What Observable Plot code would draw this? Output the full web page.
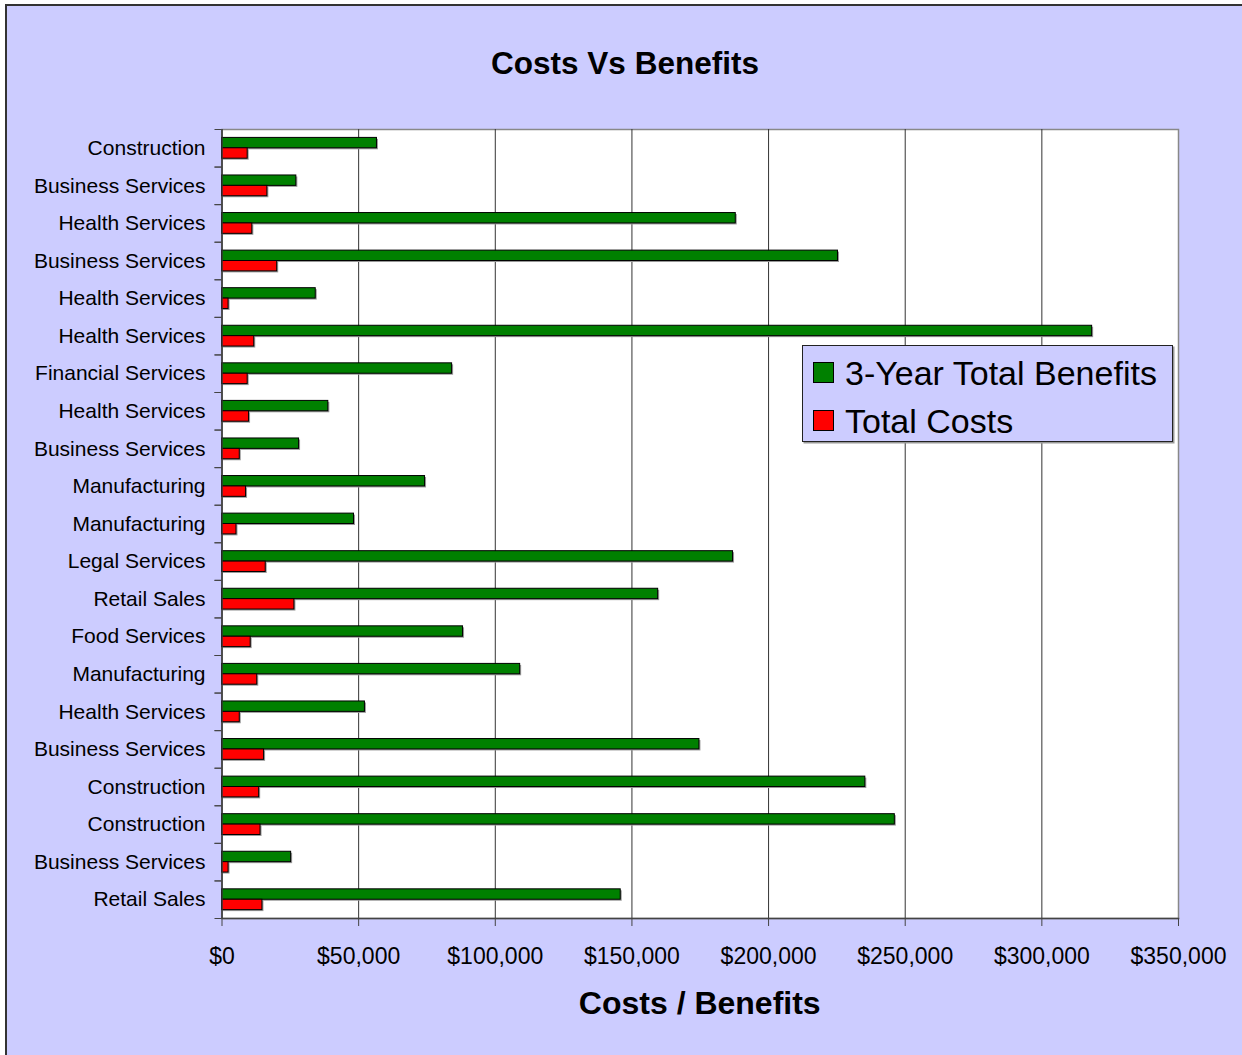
<!DOCTYPE html>
<html>
<head>
<meta charset="utf-8">
<script src="https://cdn.jsdelivr.net/npm/d3@7"></script>
<script src="https://cdn.jsdelivr.net/npm/@observablehq/plot@0.6"></script>
<style>
  html, body { margin: 0; padding: 0; background: #fff; }
  #wrap { position: relative; width: 1242px; height: 1055px; overflow: hidden; font-family: "Liberation Sans", Arial, sans-serif; }
  #panel { position: absolute; left: 5px; top: 4px; width: 1240px; height: 1060px; background: #ccccff; border-left: 2px solid #333; border-top: 2px solid #333; border-right: 1px solid #aaa; box-sizing: border-box; }
  #chart { position: absolute; left: 0; top: 0; }
  #title { position: absolute; left: 0; width: 1250px; top: 48px; text-align: center; font-weight: bold; font-size: 31.5px; line-height: 31px; color: #000; }
  #xlabel { position: absolute; left: 221.5px; width: 956.5px; top: 987px; text-align: center; font-weight: bold; font-size: 32px; line-height: 32px; color: #000; }
  #legend { position: absolute; left: 802px; top: 345px; width: 371px; height: 97px; box-sizing: border-box; background: #ccccff; border: 1.5px solid #222; box-shadow: 1.5px 1.5px 0 #999; }
  .item { position: absolute; left: 0; font-size: 34px; line-height: 34px; color: #000; white-space: nowrap; }
  .sw { position: absolute; width: 21px; height: 21px; box-sizing: border-box; border: 1px solid #000; }
  .lt { position: absolute; left: 42px; }
</style>
</head>
<body>
<div id="wrap">
  <div id="panel"></div>
  <div id="chart"></div>
  <div id="title">Costs Vs Benefits</div>
  <div id="xlabel">Costs / Benefits</div>
  <div id="legend"></div>
</div>
<script>
// ---- data ----
const categories = [
  "Construction", "Business Services", "Health Services", "Business Services",
  "Health Services", "Health Services", "Financial Services", "Health Services",
  "Business Services", "Manufacturing", "Manufacturing", "Legal Services",
  "Retail Sales", "Food Services", "Manufacturing", "Health Services",
  "Business Services", "Construction", "Construction", "Business Services",
  "Retail Sales"
];
const benefits = [
  56700, 27200, 188000, 225400, 34300, 318400, 84200, 38900, 28200, 74300,
  48300, 187000, 159600, 88200, 109100, 52300, 174700, 235400, 246200, 25300,
  145900
];
const costs = [
  9400, 16600, 11100, 20200, 2400, 11800, 9400, 9900, 6500, 8800,
  5300, 16000, 26500, 10500, 12900, 6500, 15400, 13600, 14100, 2400,
  14800
];
const xTicks = [0, 50000, 100000, 150000, 200000, 250000, 300000, 350000];
const seriesNames = ["3-Year Total Benefits", "Total Costs"];
const seriesColors = ["#008000", "#ff0000"];

// ---- layout ----
const W = 1242, H = 1055;
const mt = 129, mb = 137, ml = 221.5, mr = 64;
const step = (H - mt - mb) / categories.length;
const rows = categories.map((c, i) => ({ i, cat: c, benefits: benefits[i], costs: costs[i] }));
const fmt = d => "$" + d3.format(",")(d);

const barOpts = (key, top, bottom, color) => ({
  y: "i", x: key, fill: color, stroke: "#000", strokeWidth: 1,
  insetTop: step * top, insetBottom: step * bottom
});
const shadowOpts = (key, top, bottom) => ({
  y: "i", x: key, fill: "#999", dx: 1.5, dy: 1.5,
  insetTop: step * top, insetBottom: step * bottom
});

const chart = Plot.plot({
  width: W, height: H,
  marginLeft: ml, marginRight: mr, marginTop: mt, marginBottom: mb,
  style: { background: "transparent", fontFamily: "'Liberation Sans', Arial, sans-serif", color: "#000", overflow: "visible" },
  x: { domain: [0, 350000] },
  y: { type: "band", domain: d3.range(categories.length), padding: 0, round: false },
  marks: [
    Plot.frame({ fill: "white", stroke: "#888", strokeWidth: 1.5 }),
    Plot.ruleX(xTicks.slice(1, -1), { stroke: "#333", strokeWidth: 1 }),
    Plot.barX(rows, shadowOpts("benefits", 0.2236, 0.4996)),
    Plot.barX(rows, shadowOpts("costs", 0.5, 0.223)),
    Plot.barX(rows, barOpts("benefits", 0.2236, 0.4996, seriesColors[0])),
    Plot.barX(rows, barOpts("costs", 0.5, 0.223, seriesColors[1])),
    Plot.ruleX([0], { stroke: "#333", strokeWidth: 1.5 }),
    Plot.frame({ anchor: "bottom", stroke: "#444", strokeWidth: 1.5 }),
    Plot.axisY({ tickSize: 7, tickFormat: () => "", dy: -step / 2, stroke: "#444", label: null }),
    Plot.axisY({ tickSize: 7, tickFormat: () => "", dy: step / 2, stroke: "#444", label: null }),
    Plot.axisY({ tickSize: 0, tickPadding: 16.5, tickFormat: i => categories[i], fontSize: 21, label: null }),
    Plot.axisX({ ticks: xTicks, tickFormat: fmt, tickSize: 8, tickPadding: 20.7, fontSize: 23, stroke: "#444", label: null })
  ]
});
document.getElementById("chart").appendChild(chart);

// ---- legend ----
const legend = document.getElementById("legend");
const legendTops = [10, 57.5];
const swatchTops = [16, 64];
seriesNames.forEach((name, k) => {
  const sw = document.createElement("div");
  sw.className = "sw";
  sw.style.left = "10px";
  sw.style.top = swatchTops[k] + "px";
  sw.style.background = seriesColors[k];
  legend.appendChild(sw);
  const t = document.createElement("div");
  t.className = "item lt";
  t.style.top = legendTops[k] + "px";
  t.textContent = name;
  legend.appendChild(t);
});
</script>
</body>
</html>
